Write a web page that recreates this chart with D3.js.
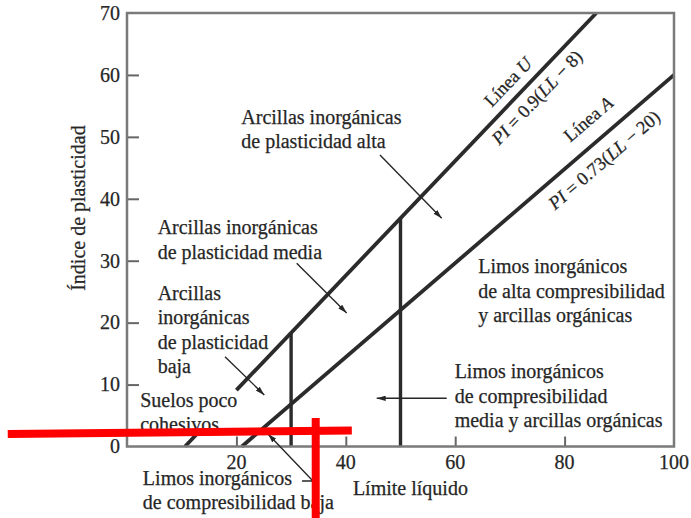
<!DOCTYPE html>
<html><head><meta charset="utf-8">
<script src="https://cdn.jsdelivr.net/npm/d3@7"></script>
<style>body{margin:0;background:#fff}svg{display:block}</style>
</head><body><div id="chart"></div>
<script>
// ---- data ----
const xTickValues = [20, 40, 60, 80, 100];
const yTickValues = [0, 10, 20, 30, 40, 50, 60, 70];
const uLine = [{ll: 20, pi: 9.1}, {ll: 85.8, pi: 70}];          // Línea U
const aLine = [{ll: 21, pi: 0}, {ll: 100, pi: 60}];             // Línea A
const lowLine = [{ll: 10.6, pi: 0}, {ll: 13.3, pi: 2.5}];
const verticals = [{ll: 30, top: 18.4}, {ll: 50, top: 36.9}];
const uLabels = {name: "Línea ", nameIt: "U", eq: [["PI", true], [" = 0.9(", false], ["LL", true], [" − 8)", false]]};
const aLabels = {name: "Línea ", nameIt: "A", eq: [["PI", true], [" = 0.73(", false], ["LL", true], [" − 20)", false]]};
const uLabelPos = [{ll: 69.6, pi: 58.9}, {ll: 74.9, pi: 56.4}];
const aLabelPos = [{ll: 84.3, pi: 52.9}, {ll: 87.2, pi: 46.3}];
const zoneNotes = [
  {ll: 20.9, pi: 52.1, lines: ["Arcillas inorgánicas", "de plasticidad alta"]},
  {ll: 5.6, pi: 34.3, lines: ["Arcillas inorgánicas", "de plasticidad media"]},
  {ll: 5.6, pi: 23.7, lines: ["Arcillas", "inorgánicas", "de plasticidad", "baja"]},
  {ll: 2.4, pi: 6.45, lines: ["Suelos poco", "cohesivos"]},
  {ll: 2.9, pi: -6.2, lines: ["Limos inorgánicos", "de compresibilidad baja"]},
  {ll: 64.2, pi: 28.0, lines: ["Limos inorgánicos", "de alta compresibilidad", "y arcillas orgánicas"]},
  {ll: 59.9, pi: 11.05, lines: ["Limos inorgánicos", "de compresibilidad", "media y arcillas orgánicas"]}
];
const arrows = [
  [{ll: 46.25, pi: 47.07}, {ll: 57.53, pi: 36.85}],
  [{ll: 31.02, pi: 29.58}, {ll: 40.16, pi: 21.56}],
  [{ll: 17.92, pi: 14.5}, {ll: 25.1, pi: 8.32}],
  [{ll: 32.0, pi: -5.57}, {ll: 34.0, pi: -5.57}, {ll: 25.78, pi: 2.02}],
  [{ll: 58.45, pi: 7.78}, {ll: 45.65, pi: 7.78}]
];
const redMarks = [
  [{ll: -21.8, pi: 2.0}, {ll: 41.1, pi: 2.6}],
  [{ll: 34.5, pi: 4.6}, {ll: 34.5, pi: -11.7}]
];
const xTitle = "Límite líquido";
const yTitle = "Índice de plasticidad";

// ---- layout ----
const W = 691, H = 518;
const margin = {top: 13, right: 17, bottom: 71.5, left: 127};
const x = d3.scaleLinear().domain([0, 100]).range([margin.left, W - margin.right]);
const y = d3.scaleLinear().domain([0, 70]).range([H - margin.bottom, margin.top]);
const FONT = "'Liberation Serif', 'Times New Roman', serif";
const INK = "#262626";

const svg = d3.select("#chart").append("svg").attr("width", W).attr("height", H)
  .style("font-family", FONT);

svg.append("defs").append("marker").attr("id", "ah")
  .attr("viewBox", "0 0 10 6").attr("refX", 10).attr("refY", 3)
  .attr("markerWidth", 9).attr("markerHeight", 5.4).attr("markerUnits", "userSpaceOnUse")
  .attr("orient", "auto")
  .append("path").attr("d", "M0,0L10,3L0,6Z").attr("fill", INK);

function ink(sel, size) {
  return sel.attr("font-size", size).attr("fill", INK).attr("stroke", INK).attr("stroke-width", 0.25);
}

// ticks (inside)
const xAxis = d3.axisTop(x).tickValues(xTickValues.filter(d => d < 100)).tickSize(10).tickFormat("");
svg.append("g").attr("transform", `translate(0,${y(0)})`).call(xAxis)
  .call(g => g.select(".domain").remove())
  .call(g => g.selectAll("line").attr("stroke", "#666").attr("stroke-width", 2));
const yAxis = d3.axisRight(y).tickValues(yTickValues.filter(d => d > 0 && d < 70)).tickSize(12).tickFormat("");
svg.append("g").attr("transform", `translate(${x(0)},0)`).call(yAxis)
  .call(g => g.select(".domain").remove())
  .call(g => g.selectAll("line").attr("stroke", "#666").attr("stroke-width", 2));

// tick labels
ink(svg.append("g").selectAll("text").data(xTickValues).join("text")
  .attr("x", d => x(d)).attr("y", y(0) + 22).attr("text-anchor", "middle"), 20).text(d => d);
ink(svg.append("g").selectAll("text").data(yTickValues).join("text")
  .attr("x", x(0) - 7).attr("y", d => y(d)).attr("dy", "0.34em").attr("text-anchor", "end"), 20).text(d => d);

// main lines
const line = d3.line().x(d => x(d.ll)).y(d => y(d.pi));
[uLine, aLine, lowLine].forEach(l => svg.append("path").attr("d", line(l))
  .attr("fill", "none").attr("stroke", "#2b2b2b").attr("stroke-width", 3.8));
svg.append("g").selectAll("line").data(verticals).join("line")
  .attr("x1", d => x(d.ll)).attr("x2", d => x(d.ll)).attr("y1", y(0)).attr("y2", d => y(d.top))
  .attr("stroke", "#2b2b2b").attr("stroke-width", 3.4);

// frame
svg.append("rect").attr("x", x(0)).attr("y", y(70)).attr("width", x(100) - x(0)).attr("height", y(0) - y(70))
  .attr("fill", "none").attr("stroke", "#7a7a7a").attr("stroke-width", 2.5);

// line labels
function lineLabels(pts, lab, pos) {
  const ang = Math.atan2(y(pts[1].pi) - y(pts[0].pi), x(pts[1].ll) - x(pts[0].ll)) * 180 / Math.PI;
  const t1 = ink(svg.append("text").attr("transform", `translate(${x(pos[0].ll)},${y(pos[0].pi)}) rotate(${ang})`)
    .attr("text-anchor", "middle").attr("dy", "0.35em"), 18.5);
  t1.append("tspan").text(lab.name);
  t1.append("tspan").attr("font-style", "italic").text(lab.nameIt);
  const t2 = ink(svg.append("text").attr("transform", `translate(${x(pos[1].ll)},${y(pos[1].pi)}) rotate(${ang})`)
    .attr("text-anchor", "middle").attr("dy", "0.35em"), 18.5);
  lab.eq.forEach(([s, it]) => t2.append("tspan").attr("font-style", it ? "italic" : "normal").text(s));
}
lineLabels(uLine, uLabels, uLabelPos);
lineLabels(aLine, aLabels, aLabelPos);

// zone notes
zoneNotes.forEach(n => {
  const t = ink(svg.append("text").attr("x", x(n.ll)).attr("y", y(n.pi)), 20);
  n.lines.forEach((s, i) => t.append("tspan").attr("x", x(n.ll)).attr("dy", i ? 24.5 : 0).text(s));
});

// arrows
arrows.forEach(a => svg.append("path").attr("d", line(a)).attr("fill", "none")
  .attr("stroke", INK).attr("stroke-width", 1.4).attr("marker-end", "url(#ah)"));

// axis titles
ink(svg.append("text").attr("x", x(41.3)).attr("y", 495).attr("text-anchor", "start"), 20).text(xTitle);
ink(svg.append("text").attr("transform", `translate(85,${y(38.5)}) rotate(-90)`).attr("text-anchor", "middle"), 20).text(yTitle);

// red overlay marks
redMarks.forEach(r => svg.append("path").attr("d", line(r)).attr("fill", "none")
  .attr("stroke", "#ff0000").attr("stroke-width", 8));
</script></body></html>
